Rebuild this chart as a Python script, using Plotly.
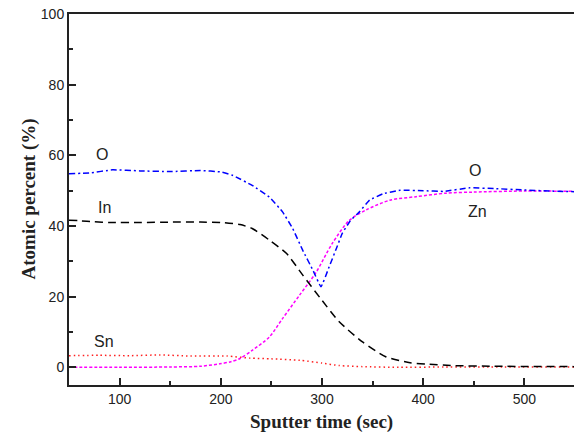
import plotly.graph_objects as go

# Data
o_x = [50, 70, 93, 120, 150, 180, 200, 212, 231, 248, 261, 271, 281, 291, 299, 307, 314, 320, 328, 337, 347, 360, 377, 400, 420, 446, 470, 500, 525, 550]
o_y = [54.8, 55.0, 55.9, 55.6, 55.4, 55.7, 55.3, 54.3, 51.5, 48.2, 44.0, 39.3, 33.1, 27.5, 22.8, 28.4, 33.5, 37.9, 41.5, 44.0, 47.3, 49.1, 50.1, 50.0, 49.8, 50.8, 50.6, 50.2, 49.9, 49.7]

zn_x = [50, 100, 150, 180, 199, 210, 219, 231, 248, 261, 278, 294, 310, 327, 344, 367, 393, 423, 450, 500, 550]
zn_y = [0.0, 0.0, 0.1, 0.3, 1.0, 1.6, 2.5, 4.8, 8.6, 13.8, 20.5, 26.8, 35.0, 41.6, 44.6, 47.3, 48.3, 49.3, 49.6, 49.9, 49.8]

in_x = [50, 60, 75, 90, 120, 150, 180, 200, 219, 231, 248, 265, 281, 298, 317, 340, 363, 387, 403, 430, 470, 550]
in_y = [41.6, 41.5, 41.2, 41.0, 41.0, 41.1, 41.1, 41.0, 40.4, 39.3, 36.0, 32.2, 26.1, 19.7, 12.9, 7.2, 3.0, 1.3, 0.9, 0.5, 0.3, 0.2]

sn_x = [50, 80, 110, 140, 170, 206, 229, 250, 278, 300, 317, 340, 376, 420, 480, 550]
sn_y = [3.3, 3.4, 3.3, 3.5, 3.2, 3.2, 2.6, 2.4, 2.0, 1.2, 0.5, 0.2, 0.0, 0.1, 0.1, 0.1]

labels = ["O", "In", "Sn", "O", "Zn"]
label_x = [83, 85, 85, 451, 454]
label_y = [60.3, 45.3, 7.2, 55.7, 44.2]

x_ticks = [100, 200, 300, 400, 500]
y_ticks = [0, 20, 40, 60, 80, 100]

fig = go.Figure()
fig.add_trace(go.Scatter(x=sn_x, y=sn_y, mode="lines",
                         line=dict(color="#ff2020", width=1.5, dash="1.5px,3px", shape="spline", smoothing=0.6)))
fig.add_trace(go.Scatter(x=zn_x, y=zn_y, mode="lines",
                         line=dict(color="#ff00ff", width=1.5, dash="3px,2px", shape="spline", smoothing=0.8)))
fig.add_trace(go.Scatter(x=in_x, y=in_y, mode="lines",
                         line=dict(color="#000000", width=1.5, dash="8px,5px", shape="spline", smoothing=0.6)))
fig.add_trace(go.Scatter(x=o_x, y=o_y, mode="lines",
                         line=dict(color="#0000ff", width=1.5, dash="6px,3px,2px,3px", shape="spline", smoothing=0.3)))

for t, xx, yy in zip(labels, label_x, label_y):
    fig.add_annotation(x=xx, y=yy, text=t, showarrow=False,
                       font=dict(family="Liberation Sans, Arial", size=16, color="#222222"))

title_font = dict(family="Liberation Serif, Times New Roman", size=19, color="#222")
fig.add_annotation(xref="paper", yref="paper", x=0.5, y=-0.1, yanchor="middle", xanchor="center",
                   text="<b>Sputter time (sec)</b>", showarrow=False, font=title_font)
fig.add_annotation(xref="paper", yref="paper", x=0, xshift=-41, y=0.5, xanchor="center", yanchor="middle",
                   textangle=-90, text="<b>Atomic percent (%)</b>", showarrow=False, font=title_font)

fig.update_layout(
    width=574, height=434,
    margin=dict(l=69, r=0, t=14, b=49),
    paper_bgcolor="white", plot_bgcolor="white",
    showlegend=False,
    xaxis=dict(range=[50, 549], tickvals=x_ticks, ticks="inside", ticklen=7, tickwidth=2,
               tickcolor="#222", showline=True, linewidth=2, linecolor="#222", mirror=True,
               showgrid=False, zeroline=False, automargin=False,
               minor=dict(tickvals=[150, 250, 350, 450], ticks="inside", ticklen=4, tickwidth=1.5, tickcolor="#222"),
               tickfont=dict(family="Liberation Sans, Arial", size=14, color="#222")),
    yaxis=dict(range=[-5, 100], tickvals=y_ticks, ticks="inside", ticklen=7, tickwidth=2,
               tickcolor="#222", showline=True, linewidth=2, linecolor="#222", mirror=False,
               showgrid=False, zeroline=False, automargin=False,
               minor=dict(tickvals=[10, 30, 50, 70, 90], ticks="inside", ticklen=4, tickwidth=1.5, tickcolor="#222"),
               tickfont=dict(family="Liberation Sans, Arial", size=14, color="#222")),
)

fig.write_html("out.html", config={"displayModeBar": False},
               post_script="document.body.style.margin='0';document.body.style.overflow='hidden';")
